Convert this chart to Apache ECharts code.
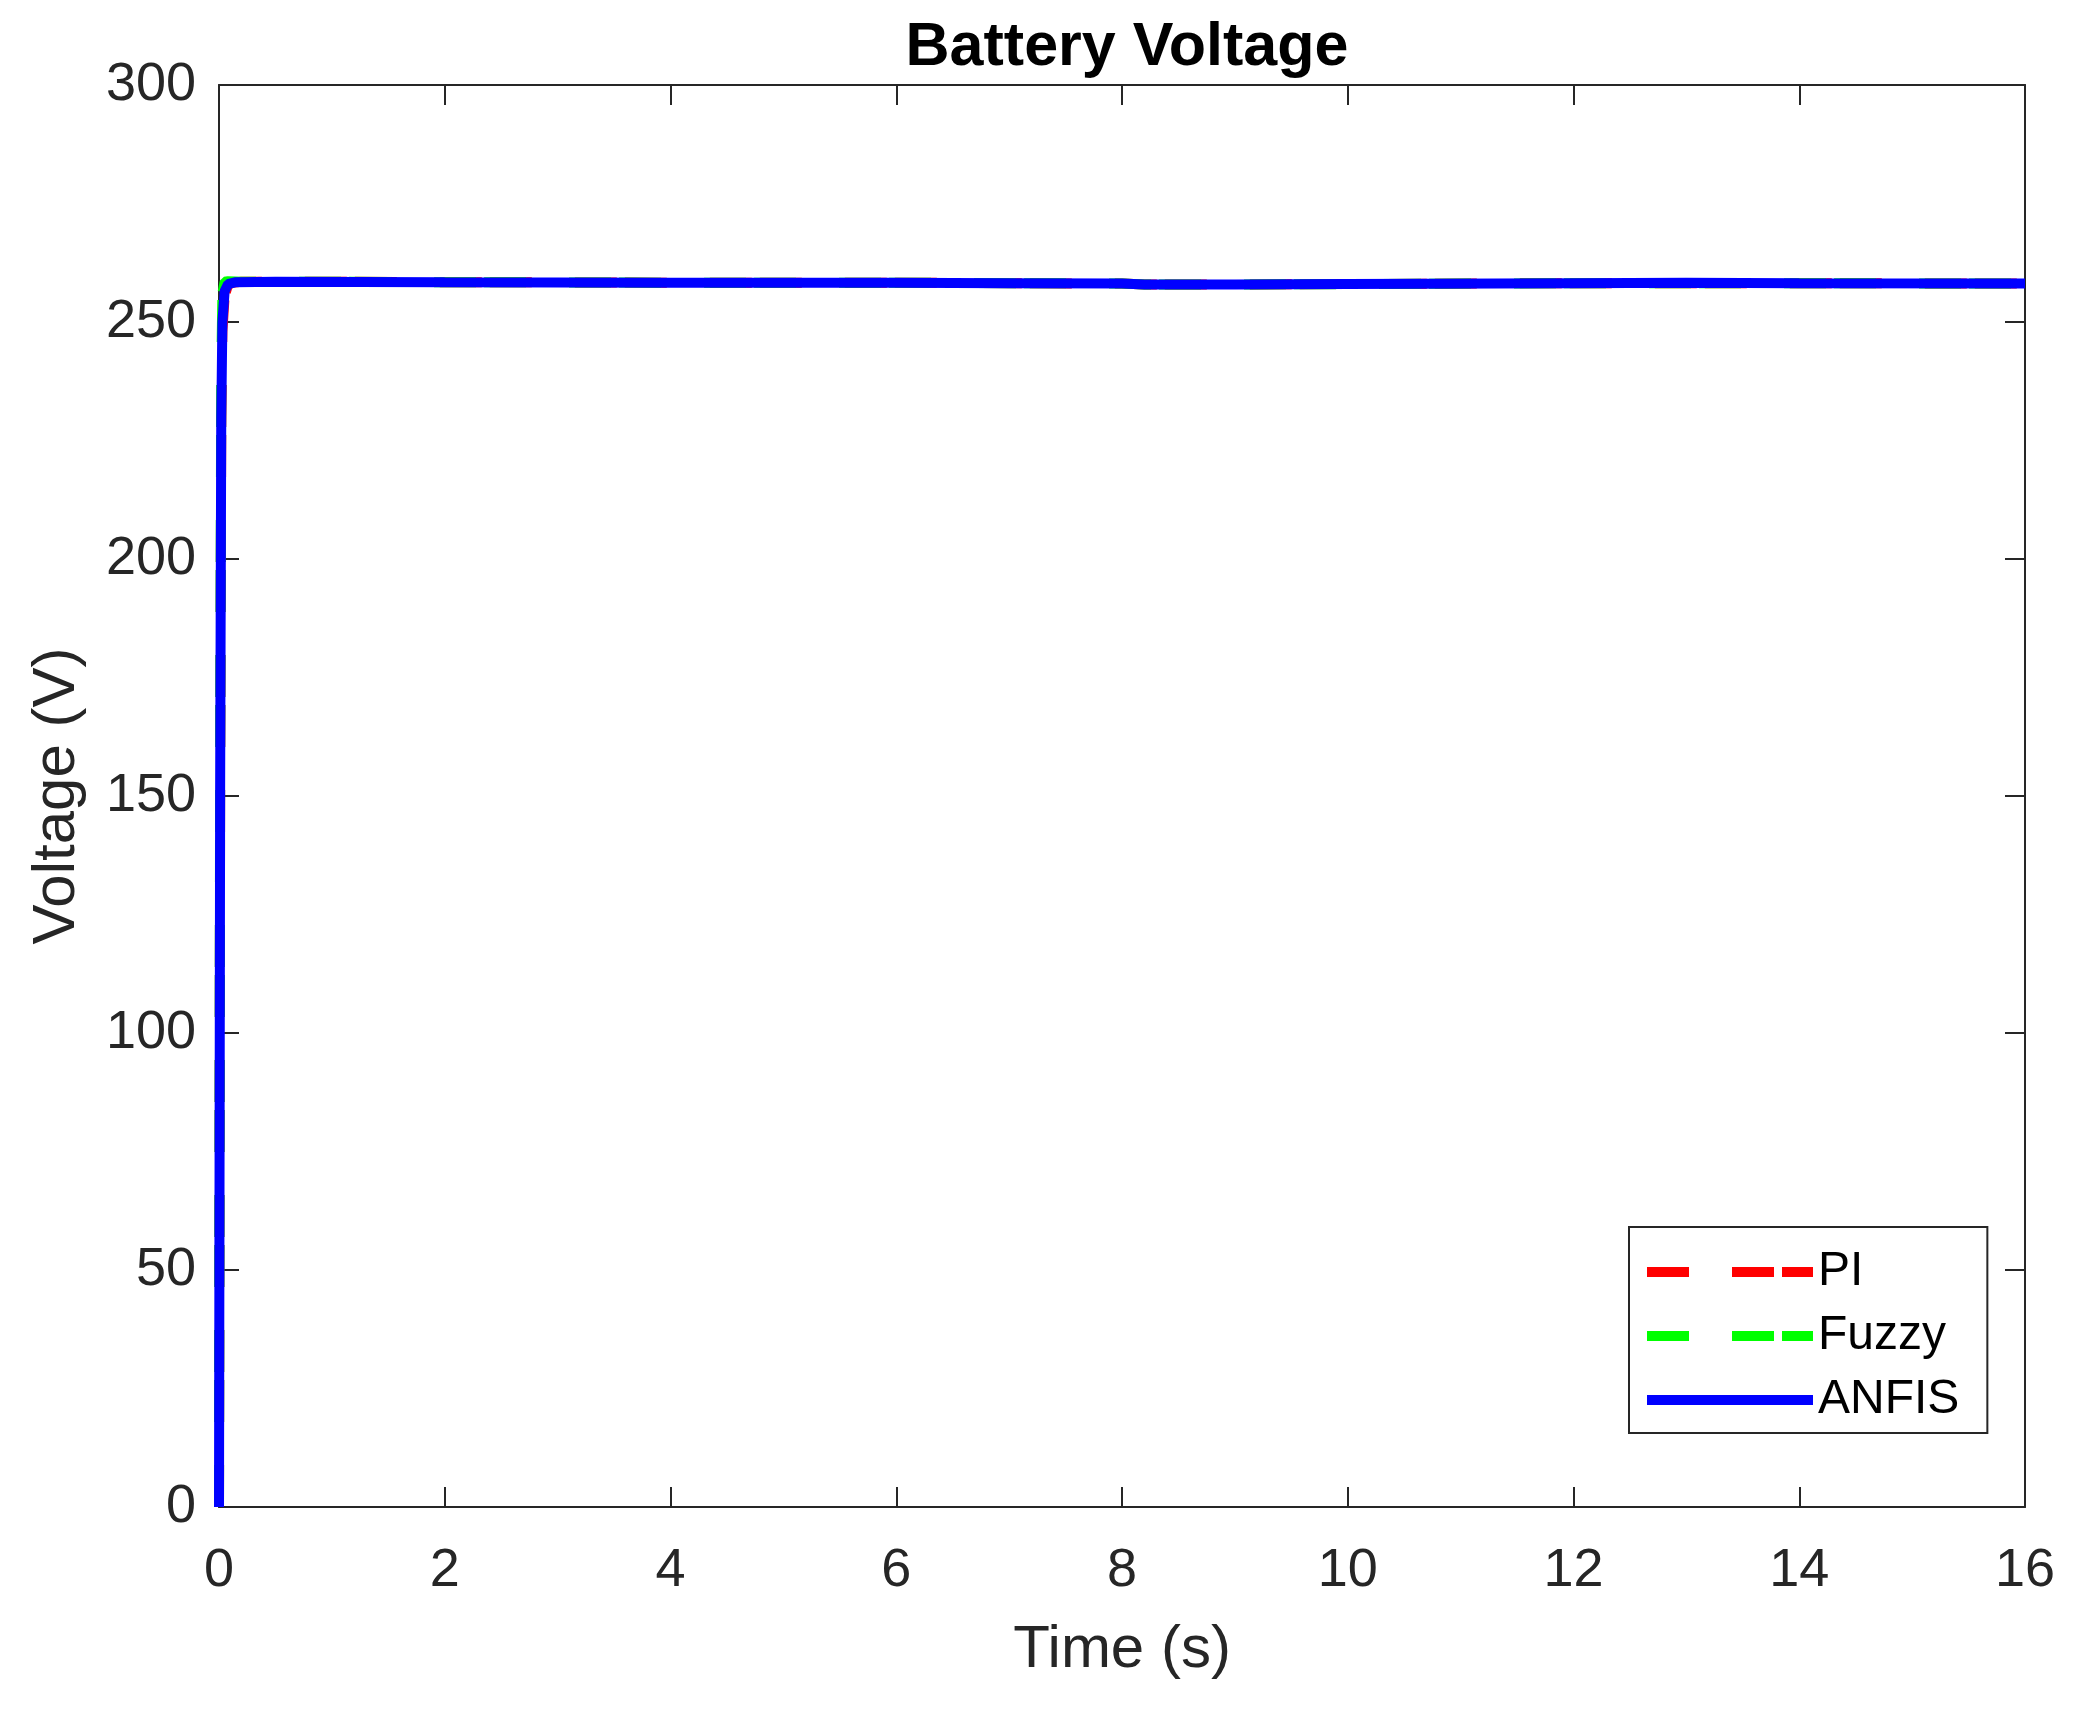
<!DOCTYPE html>
<html>
<head>
<meta charset="utf-8">
<script src="https://cdn.jsdelivr.net/npm/echarts@6/dist/echarts.min.js"></script>
<style>
html,body{margin:0;padding:0;background:#fff;}
#c{width:2082px;height:1711px;}
</style>
</head>
<body>
<div id="c"></div>
<script>
// ---- data ----
const titleText = 'Battery Voltage';
const xName = 'Time (s)';
const yName = 'Voltage (V)';
const seriesNames = ['PI', 'Fuzzy', 'ANFIS'];
const piTime      = [0, 0.01, 0.02, 0.03, 0.05, 0.08, 0.12, 0.2, 1, 2, 4, 6, 8, 8.2, 9, 10, 12, 14, 16];
const piVolt      = [0, 150, 228, 248, 255.5, 257.8, 258.3, 258.5, 258.5, 258.4, 258.3, 258.3, 258.1, 257.9, 257.9, 258.0, 258.2, 258.2, 258.1];
const fuzzyTime   = [0, 0.01, 0.02, 0.03, 0.05, 0.08, 0.2, 1, 2, 4, 6, 8, 8.2, 9, 10, 12, 14, 16];
const fuzzyVolt   = [0, 160, 240, 256, 258.5, 258.6, 258.5, 258.5, 258.4, 258.3, 258.3, 258.1, 257.9, 257.9, 258.0, 258.2, 258.2, 258.1];
const anfisTime   = [0, 0.01, 0.02, 0.03, 0.05, 0.08, 0.15, 0.5, 2, 4, 6, 7, 8, 8.2, 9, 10, 12, 13, 14, 16];
const anfisVolt   = [0, 150, 230, 250, 256.5, 258, 258.4, 258.5, 258.4, 258.3, 258.3, 258.2, 258.1, 257.9, 257.9, 258.0, 258.2, 258.3, 258.2, 258.1];
const xTicks = {min: 0, max: 16, interval: 2};
const yTicks = {min: 0, max: 300, interval: 50};

function zip(t, v){ return t.map((x, i) => [x, v[i]]); }

const axisColor = '#262626';
const font = 'Liberation Sans, Arial, sans-serif';
const dashPattern = [42, 43, 42, 8];

const chart = echarts.init(document.getElementById('c'), null, {renderer: 'canvas'});
chart.setOption({
  animation: false,
  backgroundColor: '#ffffff',
  title: {
    text: titleText,
    left: 1122, textAlign: 'center',
    top: 13,
    textStyle: {fontFamily: font, fontSize: 61, fontWeight: 'bold', color: '#000'}
  },
  legend: {
    orient: 'vertical',
    left: 1629, top: 1227,
    padding: [21, 28, 9, 13],
    itemWidth: 166, itemHeight: 14, itemGap: 16, itemTextGap: 14,
    itemStyle: {opacity: 0},
    lineStyle: {width: 10},
    borderColor: axisColor, borderWidth: 2,
    backgroundColor: '#fff',
    textStyle: {fontFamily: font, fontSize: 48, color: '#000'},
    data: seriesNames
  },
  grid: {left: 219, right: 57, top: 85, bottom: 204, containLabel: false},
  xAxis: [{
    type: 'value', min: xTicks.min, max: xTicks.max, interval: xTicks.interval,
    position: 'bottom',
    name: xName, nameLocation: 'middle', nameGap: 113,
    nameTextStyle: {fontFamily: font, fontSize: 60, color: axisColor},
    axisLine: {show: true, onZero: false, lineStyle: {color: axisColor, width: 2}},
    axisTick: {show: true, inside: true, length: 20, lineStyle: {color: axisColor, width: 2}},
    axisLabel: {fontFamily: font, fontSize: 54, color: axisColor, margin: 37},
    splitLine: {show: false}
  }, {
    type: 'value', min: xTicks.min, max: xTicks.max, interval: xTicks.interval,
    position: 'top',
    axisLine: {show: true, onZero: false, lineStyle: {color: axisColor, width: 2}},
    axisTick: {show: true, inside: true, length: 20, lineStyle: {color: axisColor, width: 2}},
    axisLabel: {show: false},
    splitLine: {show: false}
  }],
  yAxis: [{
    type: 'value', min: yTicks.min, max: yTicks.max, interval: yTicks.interval,
    position: 'left',
    name: yName, nameLocation: 'middle', nameGap: 132,
    nameTextStyle: {fontFamily: font, fontSize: 60, color: axisColor},
    axisLine: {show: true, onZero: false, lineStyle: {color: axisColor, width: 2}},
    axisTick: {show: true, inside: true, length: 20, lineStyle: {color: axisColor, width: 2}},
    axisLabel: {fontFamily: font, fontSize: 54, color: axisColor, margin: 23},
    splitLine: {show: false}
  }, {
    type: 'value', min: yTicks.min, max: yTicks.max, interval: yTicks.interval,
    position: 'right',
    axisLine: {show: true, onZero: false, lineStyle: {color: axisColor, width: 2}},
    axisTick: {show: true, inside: true, length: 20, lineStyle: {color: axisColor, width: 2}},
    axisLabel: {show: false},
    splitLine: {show: false}
  }],
  series: [
    {name: seriesNames[0], type: 'line', xAxisIndex: 0, yAxisIndex: 0, data: zip(piTime, piVolt),
     showSymbol: false, symbol: 'none', color: '#ff0000',
     lineStyle: {color: '#ff0000', width: 10, type: dashPattern}},
    {name: seriesNames[1], type: 'line', xAxisIndex: 0, yAxisIndex: 0, data: zip(fuzzyTime, fuzzyVolt),
     showSymbol: false, symbol: 'none', color: '#00ff00',
     lineStyle: {color: '#00ff00', width: 10, type: dashPattern}},
    {name: seriesNames[2], type: 'line', xAxisIndex: 0, yAxisIndex: 0, data: zip(anfisTime, anfisVolt),
     showSymbol: false, symbol: 'none', color: '#0000ff',
     lineStyle: {color: '#0000ff', width: 10, type: 'solid'}}
  ]
});
</script>
</body>
</html>
